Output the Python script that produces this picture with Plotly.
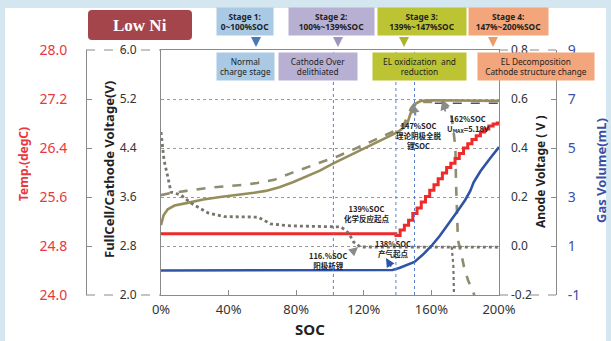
import plotly.graph_objects as go

W, H = 611, 341

# ---------------- data ----------------
soc_ticks = [0, 40, 80, 120, 160, 200]
soc_tick_text = ["0%", "40%", "80%", "120%", "160%", "200%"]
volt_ticks = [2.0, 2.8, 3.6, 4.4, 5.2, 6.0]
temp_ticks = [24.0, 24.8, 25.6, 26.4, 27.2, 28.0]
anode_ticks = [-0.2, 0.0, 0.2, 0.4, 0.6, 0.8]
gas_ticks = [-1, 1, 3, 5, 7, 9]

full_soc = [0, 1.5, 4, 8, 15, 25, 35, 45, 55, 62, 70, 78, 86, 94, 102, 110, 118, 126,
            134, 140, 144, 146, 147.5, 149, 151, 154, 160, 170, 180, 190, 200]
full_v = [3.14, 3.30, 3.40, 3.46, 3.50, 3.56, 3.60, 3.63, 3.67, 3.70, 3.76, 3.84, 3.93,
          4.03, 4.15, 4.26, 4.37, 4.48, 4.58, 4.66, 4.74, 4.82, 4.95, 5.05, 5.13, 5.17,
          5.18, 5.18, 5.17, 5.17, 5.17]

cath_soc = [0, 5, 15, 28, 40, 50, 57, 67, 77, 87, 96, 105, 115, 125, 135, 140, 144, 146,
            148, 150, 153, 160, 167, 170, 171.6, 173, 174.2, 174.6, 175, 175.7, 177.5,
            179.3, 181.7, 185, 187]
cath_v = [3.63, 3.66, 3.70, 3.75, 3.78, 3.80, 3.83, 3.88, 3.99, 4.09, 4.17, 4.27, 4.39,
          4.51, 4.63, 4.70, 4.80, 4.92, 5.05, 5.12, 5.15, 5.15, 5.15, 5.08, 4.97, 4.70,
          4.40, 3.80, 3.30, 2.90, 2.69, 2.46, 2.24, 2.03, 1.85]

cath_top_soc = [162, 200]
cath_top_v = [5.13, 5.13]

anode_soc = [0, 1.8, 4.1, 5.9, 11.8, 17.8, 27.8, 37.3, 57.4, 61, 65, 77, 96, 106.5,
             111, 114, 118, 140, 160, 180, 200]
anode_v = [0.465, 0.35, 0.28, 0.22, 0.208, 0.175, 0.135, 0.12, 0.118, 0.106, 0.09,
           0.082, 0.078, 0.078, 0.053, 0.016, -0.004, -0.004, -0.005, -0.005, -0.005]

anode2_soc = [172, 173, 173.5]
anode2_v = [-0.004, -0.08, -0.25]

temp_soc = [0, 138, 139, 141.5, 144, 146.5, 149, 151.5, 154, 156.5, 159, 161.5, 164,
            166.5, 169, 171.5, 174, 176.5, 179, 181.5, 184, 186.5, 189, 191.5, 194,
            196.5, 199, 200]
temp_c = [25.0, 25.0, 24.97, 25.06, 25.14, 25.22, 25.33, 25.42, 25.52, 25.61, 25.71,
          25.80, 25.90, 25.99, 26.08, 26.15, 26.23, 26.31, 26.40, 26.47, 26.54, 26.60,
          26.66, 26.71, 26.76, 26.79, 26.81, 26.81]

gas_soc = [0, 137, 141, 145, 150, 155, 160, 165, 170, 175, 180, 183, 185, 189, 195, 200]
gas_ml = [0.0, 0.02, 0.1, 0.2, 0.35, 0.65, 1.0, 1.42, 1.88, 2.38, 2.88, 3.25, 3.6,
          4.05, 4.6, 5.04]

stage_lines = [102, 139, 150]


def px(x):
    return x / W


def py(y):
    return 1 - y / H


fig = go.Figure()

OLIVE = "#958e5c"
fig.add_trace(go.Scatter(x=full_soc, y=full_v, mode="lines",
                         line=dict(color=OLIVE, width=2.6), yaxis="y"))
fig.add_trace(go.Scatter(x=cath_soc, y=cath_v, mode="lines",
                         line=dict(color="#8f8c70", width=2.6, dash="dash"), yaxis="y"))
fig.add_trace(go.Scatter(x=cath_top_soc, y=cath_top_v, mode="lines",
                         line=dict(color="#555555", width=1.6, dash="dash"), yaxis="y"))
fig.add_trace(go.Scatter(x=anode_soc, y=anode_v, mode="lines",
                         line=dict(color="#77756a", width=2.8, dash="dot"), yaxis="y3"))
fig.add_trace(go.Scatter(x=anode2_soc, y=anode2_v, mode="lines",
                         line=dict(color="#77756a", width=2.2, dash="dot"), yaxis="y3"))
fig.add_trace(go.Scatter(x=temp_soc, y=temp_c, mode="lines", line_shape="hv",
                         line=dict(color="#ee2b2b", width=3), yaxis="y2"))
fig.add_trace(go.Scatter(x=gas_soc, y=gas_ml, mode="lines",
                         line=dict(color="#2f54a6", width=2.6), yaxis="y4"))

AX = "#8a8a8a"
TXT = "#333333"
fig.update_layout(
    width=W, height=H, template="none", showlegend=False,
    margin=dict(l=0, r=0, t=0, b=0),
    paper_bgcolor="#d4e7f0", plot_bgcolor="white",
    font=dict(family="Noto Sans", color=TXT),
    xaxis=dict(domain=[px(161), px(499)], range=[0, 200], tickvals=soc_ticks,
               ticktext=soc_tick_text, ticks="inside", ticklen=5, tickcolor=AX,
               showline=True, mirror=True, linecolor=AX, linewidth=1, showgrid=False,
               zeroline=False, tickfont=dict(size=13, color=TXT), automargin=False,
               ticklabelstandoff=2),
    yaxis=dict(domain=[py(295), py(50)], range=[2, 6], tickvals=volt_ticks,
               ticktext=[f"{v:.1f}" for v in volt_ticks], ticks="", showline=True,
               mirror=True, linecolor=AX, linewidth=1, showgrid=True, gridcolor="#9a9a9a",
               griddash="dot", gridwidth=1, zeroline=False, automargin=False,
               tickfont=dict(size=12, color=TXT), ticklabelstandoff=21),
    yaxis2=dict(overlaying="y", anchor="free", position=px(86), side="left",
                range=[24, 28], tickvals=temp_ticks,
                ticktext=[f"{v:.1f}" for v in temp_ticks], ticks="inside", ticklen=5,
                tickcolor=AX, showline=True, linecolor=AX, showgrid=False,
                zeroline=False, automargin=False,
                tickfont=dict(size=14, color="#e8383d"), ticklabelstandoff=16),
    yaxis3=dict(overlaying="y", anchor="x", side="right", range=[-0.2, 0.8],
                tickvals=anode_ticks, ticktext=[f"{v:.1f}" for v in anode_ticks],
                ticks="", showline=False, showgrid=False, zeroline=False,
                automargin=False, tickfont=dict(size=12, color=TXT),
                ticklabelstandoff=11),
    yaxis4=dict(overlaying="y", anchor="free", position=px(556), side="right",
                range=[-1, 9], tickvals=gas_ticks, ticktext=[str(v) for v in gas_ticks],
                ticks="inside", ticklen=5, tickcolor=AX, showline=True, linecolor=AX,
                showgrid=False, zeroline=False, automargin=False,
                tickfont=dict(size=14, color="#3b4fa5"), ticklabelstandoff=8),
)

shapes = []
# white panel
shapes.append(dict(type="rect", xref="paper", yref="paper", x0=px(5), x1=px(606),
                   y0=py(341), y1=py(8), fillcolor="white", line=dict(width=0),
                   layer="below"))
# dashed frame segments on outer axes
for yy in (50, 295):
    for xa, xb in ((86, 125), (141, 161), (499, 510), (530, 556)):
        shapes.append(dict(type="line", xref="paper", yref="paper", x0=px(xa), x1=px(xb),
                           y0=py(yy), y1=py(yy), line=dict(color=AX, width=1, dash="dash")))
# stage vertical lines
for s in stage_lines:
    shapes.append(dict(type="line", xref="x", yref="y domain", x0=s, x1=s, y0=0, y1=1,
                       line=dict(color="#5b7fc7", width=1, dash="dot")))


# Low Ni rounded box
def rounded(x0, y0, x1, y1, r):
    def P(x, y):
        return f"{px(x):.5f},{py(y):.5f}"
    return (f"M {P(x0 + r, y0)} L {P(x1 - r, y0)} Q {P(x1, y0)} {P(x1, y0 + r)} "
            f"L {P(x1, y1 - r)} Q {P(x1, y1)} {P(x1 - r, y1)} L {P(x0 + r, y1)} "
            f"Q {P(x0, y1)} {P(x0, y1 - r)} L {P(x0, y0 + r)} Q {P(x0, y0)} {P(x0 + r, y0)} Z")


shapes.append(dict(type="path", xref="paper", yref="paper", path=rounded(88, 10, 192, 40, 4),
                   fillcolor="#a3454b", line=dict(width=0)))
fig.update_layout(shapes=shapes)

ann = []


def text_ann(x, y, text, **kw):
    d = dict(x=px(x), y=py(y), xref="paper", yref="paper", text=text, showarrow=False,
             xanchor="center", yanchor="middle")
    d.update(kw)
    ann.append(d)


text_ann(140, 25, "<b>Low Ni</b>", font=dict(family="Liberation Serif", size=17, color="white"))

BLUE_B, PURP_B, OLIV_B, ORNG_B = "#a9c9e5", "#b8b0d2", "#bcc433", "#f3a67b"
stage_boxes = [
    (217, 273, BLUE_B, "<b>Stage 1:<br>0~100%SOC</b>"),
    (289, 374, PURP_B, "<b>Stage 2:<br>100%~139%SOC</b>"),
    (378, 466, OLIV_B, "<b>Stage 3:<br>139%~147%SOC</b>"),
    (469, 548, ORNG_B, "<b>Stage 4:<br>147%~200%SOC</b>"),
]
for x0, x1, c, t in stage_boxes:
    text_ann((x0 + x1) / 2, 21.5, t, bgcolor=c, width=x1 - x0, height=27, borderpad=0,
             font=dict(size=8.3, color="#222"))
desc_boxes = [
    (217, 274, BLUE_B, "Normal<br>charge stage"),
    (279, 357, PURP_B, "Cathode Over<br>delithiated"),
    (373, 466, OLIV_B, "EL oxidization  and<br>reduction"),
    (478, 594, ORNG_B, "EL Decomposition<br>Cathode structure change"),
]
for x0, x1, c, t in desc_boxes:
    text_ann((x0 + x1) / 2, 66.5, t, bgcolor=c, width=x1 - x0, height=27, borderpad=0,
             font=dict(size=8.3, color="#222"))
for xx, c in ((256, "#4a79b8"), (338, "#9f93c4"), (404, "#aab52a"), (493, "#f09a68")):
    ann.append(dict(x=px(xx), y=py(47), xref="paper", yref="paper", text="", showarrow=True,
                    ax=0, ay=-10, arrowhead=2, arrowsize=1, arrowwidth=2, arrowcolor=c,
                    standoff=0))

# axis titles
text_ann(23, 164, "<b>Temp.(degC)</b>", textangle=-90, font=dict(size=12, color="#e8383d"))
text_ann(109, 170, "<b>FullCell/Cathode Voltage(V)</b>", textangle=-90,
         font=dict(size=13, color="#222"))
text_ann(540, 172, "<b>Anode Voltage ( V )</b>", textangle=-90, font=dict(size=12, color="#222"))
text_ann(601, 171, "<b>Gas Volume(mL)</b>", textangle=-90, font=dict(size=13, color="#3b4fa5"))
text_ann(310, 329, "<b>SOC</b>", font=dict(size=15, color="#222"))

CJK = "Noto Sans CJK SC"
notes = [
    (367, 213, "<b>139%SOC<br>化学反应起点</b>"),
    (393, 248, "<b>138%SOC<br>产气起点</b>"),
    (328, 260, "<b>116.%SOC<br>阳极析锂</b>"),
    (419, 135, "<b>147%SOC<br>理论阴极全脱<br>锂SOC</b>"),
    (468, 124, "<b>162%SOC<br>U<sub>MAX</sub>=5.18V</b>"),
]
for xx, yy, t in notes:
    text_ann(xx, yy, t, font=dict(family=CJK, size=7.5, color="#222"))

arrows = [
    (386, 258, 392, 268, "#2f54a6"),
    (358, 247, 350, 254, "#8a8a8a"),
    (413, 104, 416, 117, "#8a8a8a"),
    (442, 101, 446, 113, "#8a8a8a"),
]
for hx, hy, tx, ty, c in arrows:
    ann.append(dict(x=px(hx), y=py(hy), xref="paper", yref="paper", text="", showarrow=True,
                    ax=tx - hx, ay=ty - hy, arrowhead=2, arrowsize=1, arrowwidth=1.8,
                    arrowcolor=c, standoff=0))

fig.update_layout(annotations=ann)
fig.write_html("out.html", config={"displayModeBar": False},
               post_script="document.body.style.margin='0';document.body.style.overflow='hidden';")
